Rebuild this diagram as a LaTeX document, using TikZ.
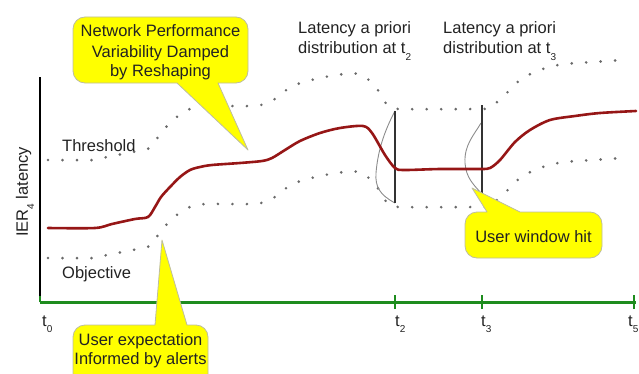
\documentclass[tikz,border=0pt]{standalone}
\usepackage{fontspec}
\setmainfont{Liberation Sans}
\definecolor{txtc}{HTML}{222222}
\definecolor{curvered}{HTML}{961616}
\definecolor{axisgreen}{HTML}{1E8C1E}
\definecolor{dotgray}{HTML}{6A6A6A}
\definecolor{callyellow}{HTML}{FFFF00}
\definecolor{callborder}{HTML}{BDBDA0}
\newcommand{\tsubs}[2]{#1\raisebox{-6pt}{\fontsize{10}{10}\selectfont #2}}
\newcommand{\bandpath}[1]{\draw[band,#1] plot[smooth,tension=0.45] coordinates {(48,213) (93,213) (107,216) (122,219) (150,225) (158,236) (167,247) (178,257) (192,265) (206,267) (250,267) (265,269) (278,276) (289,285) (303,291) (316,294) (330,297) (345,299) (360,299) (371,291) (380,280) (388,267) (400,264) (474,264) (490,265) (500,274) (511,284) (521,294) (535,301) (549,306) (564,309) (578,310) (593,311) (622,313)};}
\begin{document}
\begin{tikzpicture}[x=1pt,y=1pt,
  font=\fontsize{16.5}{20}\selectfont,
  txt/.style={inner sep=0pt, text=txtc, anchor=base},
  txtw/.style={inner sep=0pt, text=txtc, anchor=base west},
  callout/.style={fill=callyellow, draw=callborder, line width=0.8pt, line join=round},
  band/.style={draw=dotgray, line width=2.9pt, line cap=round, dash pattern=on 0pt off 14.5pt},
  latcurve/.style={draw=curvered, line width=2.6pt, line cap=round, line join=round},
  distr/.style={draw=black!45, line width=0.9pt},
  vline/.style={draw=black!80, line width=1.5pt},
  axisline/.style={draw=axisgreen, line width=3pt},
  tickmark/.style={draw=axisgreen, line width=2.2pt},
  yaxis/.style={draw=black, line width=2.6pt}]
\useasboundingbox (0,0) rectangle (639,373);
\begin{scope}
\clip (0,0) rectangle (639,373);

% dotted threshold / objective bands
\bandpath{}
\bandpath{yshift=-98pt}

% axes
\coordinate (yb) at (40,71);
\coordinate (yt) at (40,296);
\coordinate (xe) at (636,71);
\draw[yaxis] (yb) -- (yt);
\draw[axisline] (yb) -- (xe);
\coordinate (k0) at (40,71);
\coordinate (k2) at (395,71);
\coordinate (k3) at (482,71);
\coordinate (k5) at (634,71);
\draw[tickmark] ([yshift=0pt]k0) -- ([yshift=6pt]k0);
\foreach \k in {k2,k3,k5} \draw[tickmark] ([yshift=-7pt]\k) -- ([yshift=7pt]\k);

% distributions
\coordinate (d2t) at (395,262);
\coordinate (d2b) at (395,170);
\draw[distr] (d2t) .. controls (386,245) and (378,225) .. (376,200) .. controls (375,186) and (380,178) .. (d2b);
\draw[vline] (d2t) -- (d2b);
\coordinate (d3t) at (482,268);
\coordinate (d3b) at (482,180);
\draw[distr] (481,250) .. controls (474,238) and (464,228) .. (465,210) .. controls (466,195) and (474,188) .. (481,180);
\draw[vline] (d3t) -- (d3b);

% latency curve
\draw[latcurve] plot[smooth,tension=0.5] coordinates {(48,145) (95,145) (112,149) (135,154) (148,156) (155,166) (161,176) (170,186) (180,196) (190,203) (200,206) (212,208) (240,210) (262,212) (272,215) (285,223) (300,232) (320,240) (340,245) (363,247) (372,240) (385,218) (395,205) (404,203) (440,204) (480,204) (490,205) (500,213) (515,231) (530,243) (550,253) (575,257) (600,260) (636,262)};

% callouts
\path[callout] (177,290) -- (248,223) -- (218,290) -- (236,290) arc[start angle=-90,end angle=0,radius=12pt] -- (248,344) arc[start angle=0,end angle=90,radius=12pt] -- (85,356) arc[start angle=90,end angle=180,radius=12pt] -- (73,302) arc[start angle=180,end angle=270,radius=12pt] -- cycle;
\path[callout] (477,115) -- (590,115) arc[start angle=-90,end angle=0,radius=12pt] -- (602,149) arc[start angle=0,end angle=90,radius=12pt] -- (520,161) -- (472,185) -- (487,161) -- (477,161) arc[start angle=90,end angle=180,radius=12pt] -- (465,127) arc[start angle=180,end angle=270,radius=12pt] -- cycle;
\path[callout] (73,-15) -- (208,-15) -- (208,36) arc[start angle=0,end angle=90,radius=12pt] -- (187,48) -- (162,133) -- (155,48) -- (85,48) arc[start angle=90,end angle=180,radius=12pt] -- cycle;
\end{scope}

% callout texts
\node[txt] (n1) at (160.5,336) {Network Performance};
\node[txt] (n2) at (160.5,316) {Variability Damped};
\node[txt] (n3) at (160.5,296) {by Reshaping};
\node[txt] (uw) at (533.5,131) {User window hit};
\node[txt] (ue1) at (140.5,28) {User expectation};
\node[txt] (ue2) at (140.5,9) {Informed by alerts};

% labels
\node[txtw] (la1) at (298,339) {Latency a priori};
\node[txtw] (lb1) at (298,319) {distribution at \tsubs{t}{2}};
\node[txtw] (la2) at (443,339) {Latency a priori};
\node[txtw] (lb2) at (443,319) {distribution at \tsubs{t}{3}};
\node[txtw] (thr) at (62,222) {Threshold};
\node[txtw] (obj) at (62,95) {Objective};
\node[txtw, rotate=90] (ier) at (28,136) {IER\raisebox{-6pt}{\fontsize{10}{10}\selectfont 4} latency};

\node[txtw] (t0) at (42,47) {\tsubs{t}{0}};
\node[txtw] (t2) at (395,47) {\tsubs{t}{2}};
\node[txtw] (t3) at (481,47) {\tsubs{t}{3}};
\node[txtw] (t5) at (628,47) {\tsubs{t}{5}};
\end{tikzpicture}
\end{document}
